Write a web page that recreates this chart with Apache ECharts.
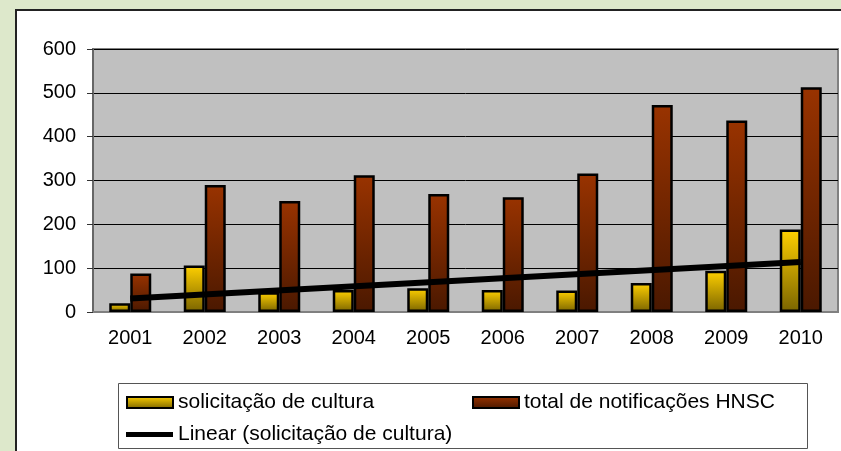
<!DOCTYPE html>
<html lang="pt">

<head>
    <meta charset="UTF-8">
    <title>Solicitação de cultura</title>
    <style>
        body {
            margin: 0;
            background: #dde8cb;
        }

        #main {
            width: 841px;
            height: 451px;
        }
    </style>
</head>

<body>
    <div id="main"></div>
    <script src="https://cdn.jsdelivr.net/npm/echarts@6/dist/echarts.min.js"></script>
    <script>
        // dados
        var anos = ['2001', '2002', '2003', '2004', '2005', '2006', '2007', '2008', '2009', '2010'];
        var solicitacao = [20, 106, 45, 50, 54, 50, 49, 66, 94, 188];
        var notificacoes = [88, 290, 253, 312, 269, 262, 316, 472, 437, 513];
        // linha de tendência: só as pontas
        var tendencia = [31, null, null, null, null, null, null, null, null, 114];
        var yTicks = [0, 100, 200, 300, 400, 500, 600];

        var fonte = 'Liberation Sans, Arial, sans-serif';

        var myChart = echarts.init(document.getElementById('main'));

        option = {
            backgroundColor: '#dde8cb',
            animation: false,
            textStyle: {
                fontFamily: fonte
            },
            graphic: [{
                type: 'rect',
                z: -100,
                shape: { x: 16, y: 10, width: 900, height: 500 },
                style: { fill: '#fff', stroke: '#222', lineWidth: 2 }
            }, {
                type: 'rect',
                z: -50,
                shape: { x: 118.5, y: 383.5, width: 689, height: 65 },
                style: { fill: '#fff', stroke: '#555', lineWidth: 1 }
            }],
            grid: {
                left: 93,
                top: 49,
                right: 3,
                bottom: 139,
                show: true,
                backgroundColor: '#c0c0c0',
                borderColor: '#808080',
                borderWidth: 2
            },
            legend: [{
                left: 126,
                top: 392,
                padding: 0,
                selectedMode: false,
                icon: 'rect',
                itemWidth: 46,
                itemHeight: 11,
                data: ['solicitação de cultura'],
                textStyle: { fontSize: 21, color: '#000', fontFamily: fonte }
            }, {
                left: 472,
                top: 392,
                padding: 0,
                selectedMode: false,
                icon: 'rect',
                itemWidth: 46,
                itemHeight: 11,
                data: ['total de notificações HNSC'],
                textStyle: { fontSize: 21, color: '#000', fontFamily: fonte }
            }, {
                left: 126,
                top: 424,
                padding: 0,
                selectedMode: false,
                itemWidth: 47,
                itemHeight: 5,
                data: [{ name: 'Linear (solicitação de cultura)', icon: 'rect' }],
                textStyle: { fontSize: 21, color: '#000', fontFamily: fonte }
            }],
            xAxis: {
                type: 'category',
                data: anos,
                axisLine: {
                    lineStyle: { color: '#808080', width: 2 }
                },
                axisTick: {
                    length: 6,
                    lineStyle: { color: '#333' }
                },
                axisLabel: {
                    margin: 16,
                    color: '#000',
                    fontSize: 20,
                    fontFamily: fonte
                }
            },
            yAxis: {
                type: 'value',
                min: yTicks[0],
                max: yTicks[yTicks.length - 1],
                interval: 100,
                axisLine: {
                    show: true,
                    lineStyle: { color: '#666', width: 2 }
                },
                axisTick: {
                    show: true,
                    length: 6,
                    lineStyle: { color: '#333' }
                },
                axisLabel: {
                    margin: 17,
                    color: '#000',
                    fontSize: 20,
                    fontFamily: fonte
                },
                splitLine: {
                    lineStyle: { color: '#000', width: 1 }
                }
            },
            series: [{
                name: 'solicitação de cultura',
                type: 'bar',
                data: solicitacao,
                barWidth: 21,
                barGap: '0%',
                itemStyle: {
                    color: new echarts.graphic.LinearGradient(0, 0, 0, 1, [{
                        offset: 0,
                        color: '#ffd000'
                    }, {
                        offset: 1,
                        color: '#7a6400'
                    }], false),
                    borderColor: '#000',
                    borderWidth: 2.5
                }
            }, {
                name: 'total de notificações HNSC',
                type: 'bar',
                data: notificacoes,
                barWidth: 21,
                barGap: '0%',
                itemStyle: {
                    color: new echarts.graphic.LinearGradient(0, 0, 0, 1, [{
                        offset: 0,
                        color: '#993300'
                    }, {
                        offset: 1,
                        color: '#4a1800'
                    }], false),
                    borderColor: '#000',
                    borderWidth: 2.5
                }
            }, {
                name: 'Linear (solicitação de cultura)',
                type: 'line',
                data: tendencia,
                connectNulls: true,
                symbol: 'none',
                z: 5,
                itemStyle: { color: '#000' },
                lineStyle: { color: '#000', width: 6 }
            }]
        };
        myChart.setOption(option);
    </script>
</body>

</html>
